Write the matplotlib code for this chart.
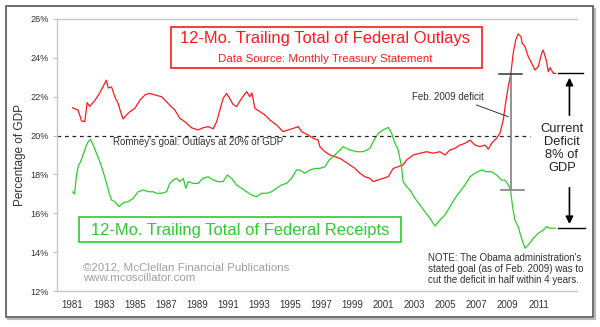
import matplotlib
matplotlib.use('Agg')
import matplotlib.pyplot as plt
from matplotlib.patches import Rectangle
from matplotlib.lines import Line2D

plt.rcParams['font.family'] = ['Liberation Sans', 'DejaVu Sans']

# 12-month trailing totals, % of GDP
outlay_years = [1981.00, 1981.36, 1981.58, 1981.79, 1981.94, 1982.10, 1982.43, 1982.76, 1982.95,
                1983.17, 1983.30, 1983.51, 1983.72, 1983.93, 1984.09, 1984.26, 1984.47, 1984.69,
                1985.01, 1985.34, 1985.66, 1985.93, 1986.30, 1986.73, 1987.05, 1987.33, 1987.58,
                1987.90, 1988.23, 1988.66, 1989.08, 1989.40, 1989.73, 1990.05, 1990.27, 1990.48,
                1990.69, 1990.91, 1991.12, 1991.33, 1991.55, 1991.88, 1992.20, 1992.41, 1992.54,
                1992.73, 1993.06, 1993.38, 1993.70, 1994.13, 1994.55, 1994.87, 1995.20, 1995.52,
                1995.74, 1996.16, 1996.48, 1996.80, 1996.91, 1997.24, 1997.56, 1997.88, 1998.20,
                1998.52, 1998.84, 1999.17, 1999.49, 1999.81, 2000.13, 2000.34, 2000.67, 2000.99,
                2001.31, 2001.63, 2001.95, 2002.27, 2002.49, 2002.92, 2003.35, 2003.78, 2004.20,
                2004.63, 2004.96, 2005.28, 2005.60, 2005.92, 2006.25, 2006.57, 2006.89, 2007.21,
                2007.53, 2007.75, 2007.96, 2008.28, 2008.50, 2008.71, 2008.86, 2009.03, 2009.20,
                2009.35, 2009.51, 2009.67, 2009.85, 2009.93, 2010.11, 2010.32, 2010.54, 2010.75,
                2010.96, 2011.18, 2011.28, 2011.50, 2011.61, 2011.72, 2011.93, 2012.08]
outlay_pct = [21.43, 21.30, 20.75, 20.72, 21.70, 21.50, 21.80, 22.20, 22.50,
              22.85, 22.45, 22.50, 22.00, 21.66, 21.23, 20.85, 21.06, 21.23,
              21.40, 21.83, 22.09, 22.17, 22.09, 22.00, 21.74, 21.50, 21.32,
              20.89, 20.71, 20.40, 20.29, 20.40, 20.46, 20.35, 20.71, 21.32,
              21.92, 22.17, 21.90, 21.60, 21.49, 21.92, 22.26, 22.00, 22.20,
              21.40, 21.23, 21.06, 20.80, 20.54, 20.20, 20.29, 20.37, 20.46,
              20.20, 20.03, 19.86, 19.77, 19.43, 19.17, 19.00, 18.91, 18.83,
              18.66, 18.49, 18.31, 18.06, 17.88, 17.80, 17.63, 17.72, 17.80,
              17.88, 18.31, 18.40, 18.49, 18.74, 19.00, 19.09, 19.17, 19.09,
              19.17, 19.00, 19.26, 19.34, 19.51, 19.60, 19.77, 19.51, 19.43,
              19.51, 19.30, 19.60, 19.86, 20.12, 20.80, 21.66, 22.50, 23.20,
              24.23, 24.92, 25.23, 25.09, 24.75, 24.58, 24.06, 23.72, 23.37,
              23.54, 24.23, 24.40, 23.80, 23.29, 23.50, 23.20, 23.20]

receipt_years = [1981.00, 1981.12, 1981.26, 1981.36, 1981.51, 1981.68, 1981.86, 1982.00, 1982.16,
                 1982.33, 1982.54, 1982.76, 1982.97, 1983.19, 1983.36, 1983.51, 1983.72, 1984.00,
                 1984.26, 1984.58, 1984.90, 1985.22, 1985.54, 1985.86, 1986.19, 1986.41, 1986.73,
                 1987.05, 1987.26, 1987.47, 1987.69, 1987.90, 1988.12, 1988.29, 1988.44, 1988.76,
                 1989.08, 1989.40, 1989.73, 1990.05, 1990.37, 1990.69, 1990.95, 1991.23, 1991.55,
                 1991.88, 1992.20, 1992.52, 1992.84, 1993.16, 1993.48, 1993.81, 1994.13, 1994.45,
                 1994.77, 1995.09, 1995.41, 1995.63, 1995.95, 1996.27, 1996.59, 1996.91, 1997.24,
                 1997.51, 1997.99, 1998.41, 1998.84, 1999.28, 1999.70, 2000.13, 2000.34, 2000.67,
                 2000.99, 2001.31, 2001.53, 2001.74, 2001.95, 2002.17, 2002.27, 2002.49, 2002.71,
                 2003.03, 2003.35, 2003.67, 2004.00, 2004.32, 2004.64, 2004.96, 2005.28, 2005.60,
                 2005.92, 2006.25, 2006.57, 2006.89, 2007.32, 2007.64, 2007.96, 2008.28, 2008.61,
                 2008.82, 2009.03, 2009.18, 2009.31, 2009.46, 2009.67, 2009.89, 2010.11, 2010.32,
                 2010.64, 2010.96, 2011.28, 2011.50, 2011.72, 2012.04]
receipt_pct = [17.10, 17.00, 17.97, 18.40, 18.65, 19.00, 19.43, 19.68, 19.80,
               19.51, 19.09, 18.65, 18.14, 17.54, 17.03, 16.68, 16.60, 16.34,
               16.54, 16.60, 16.77, 17.11, 17.20, 17.11, 17.11, 17.03, 17.03,
               17.11, 17.54, 17.71, 17.80, 17.63, 17.80, 17.29, 17.63, 17.54,
               17.54, 17.80, 17.88, 17.71, 17.63, 17.63, 17.97, 17.80, 17.46,
               17.29, 17.11, 16.94, 16.85, 17.03, 17.03, 17.11, 17.29, 17.46,
               17.54, 17.80, 18.23, 18.23, 18.06, 18.23, 18.31, 18.31, 18.40,
               18.74, 19.09, 19.43, 19.26, 19.17, 19.17, 19.34, 19.68, 20.12,
               20.29, 20.42, 20.12, 19.60, 19.26, 18.40, 17.63, 17.37, 17.20,
               16.77, 16.43, 16.08, 15.74, 15.35, 15.65, 15.91, 16.34, 16.77,
               17.11, 17.46, 17.88, 18.06, 18.23, 18.14, 18.14, 17.97, 17.71,
               17.71, 17.46, 17.20, 16.34, 15.65, 15.31, 14.71, 14.20, 14.37,
               14.71, 14.97, 15.14, 15.31, 15.23, 15.23]

year_labels = ['1981', '1983', '1985', '1987', '1989', '1991', '1993', '1995',
               '1997', '1999', '2001', '2003', '2005', '2007', '2009', '2011']
pct_ticks = [12, 14, 16, 18, 20, 22, 24, 26]

romney_goal = 20
feb09_year = 2009.20
feb09_outlays, feb09_receipts = 23.17, 17.20
current_outlays, current_receipts = 23.20, 15.23

red = '#ff1a1a'
green = '#2ecc2e'
dark = '#333333'

fig = plt.figure(figsize=(6, 3.27), dpi=100)
# outer frame with a light shadow on the right and bottom
fig.lines.append(Line2D([0.992, 0.992, 0.014], [0.972, 0.024, 0.024], transform=fig.transFigure,
                        color='#b8b8b8', lw=1.5))
fig.patches.append(Rectangle((0.010, 0.031), 0.978, 0.951, transform=fig.transFigure,
                             fill=False, edgecolor='#555555', lw=1.2))

ax = fig.add_axes([0.095, 0.110, 0.866, 0.832])
ax.set_xlim(1980.0, 2013.43)
ax.set_ylim(12, 26)

ax.plot(outlay_years, outlay_pct, color=red, lw=0.9)
ax.plot(receipt_years, receipt_pct, color=green, lw=0.9)

# Romney's 20% line
ax.plot([1980.0, 2010.43], [romney_goal, romney_goal], color='#222222', lw=0.9,
        dashes=(3, 3))
ax.text(0.1083, 0.549, "Romney's goal: Outlays at 20% of GDP", transform=ax.transAxes,
        fontsize=7, color=dark, va='center', ha='left')

# Feb. 2009 deficit marker
ax.plot([feb09_year, feb09_year], [feb09_receipts, feb09_outlays], color='#8a8a8a', lw=1.3)
ax.plot([2008.43, 2009.91], [feb09_outlays, feb09_outlays], color='#333333', lw=1.1)
ax.plot([2008.56, 2010.04], [feb09_receipts, feb09_receipts], color='#8a8a8a', lw=1.3)
ax.plot([2007.0, 2009.03], [21.57, 20.97], color=dark, lw=0.7)
ax.text(0.6825, 0.714, 'Feb. 2009 deficit', transform=ax.transAxes,
        fontsize=7, color=dark, va='center', ha='left')

# Current deficit marker
ax.plot([2012.23, 2013.84], [current_outlays, current_outlays], color='black', lw=1.0,
        clip_on=False)
ax.plot([2012.23, 2013.97], [current_receipts, current_receipts], color='black', lw=1.0,
        clip_on=False)
ax.annotate('', xy=(2012.97, current_outlays - 0.08), xytext=(2012.97, 20.9),
            arrowprops=dict(arrowstyle='-|>', color='black', lw=1.2, mutation_scale=11),
            annotation_clip=False)
ax.annotate('', xy=(2012.97, current_receipts + 0.07), xytext=(2012.97, 17.46),
            arrowprops=dict(arrowstyle='-|>', color='black', lw=1.2, mutation_scale=11),
            annotation_clip=False)
ax.text(2012.49, 19.33, 'Current\nDeficit\n8% of\nGDP', fontsize=9.3, color='#222222',
        ha='center', va='center', linespacing=1.13, clip_on=False)

# title boxes
ax.add_patch(Rectangle((0.2188, 0.8188), 0.5984, 0.1507, transform=ax.transAxes,
                       fill=False, edgecolor=red, lw=1.2))
ax.text(0.5154, 0.9265, '12-Mo. Trailing Total of Federal Outlays', transform=ax.transAxes,
        fontsize=11.9, color=red, ha='center', va='center')
ax.text(0.5162, 0.8518, 'Data Source: Monthly Treasury Statement', transform=ax.transAxes,
        fontsize=8.25, color=red, ha='center', va='center')

ax.add_patch(Rectangle((0.0429, 0.1813), 0.619, 0.0919, transform=ax.transAxes,
                       fill=False, edgecolor=green, lw=1.2))
ax.text(0.3521, 0.2243, '12-Mo. Trailing Total of Federal Receipts', transform=ax.transAxes,
        fontsize=11.9, color=green, ha='center', va='center')

ax.text(0.0494, 0.066, '\u00a92012, McClellan Financial Publications\nwww.mcoscillator.com',
        transform=ax.transAxes, fontsize=8.25, color='#a0a0a0', ha='left', va='center',
        linespacing=1.1)
ax.text(0.7144, 0.0809, "NOTE: The Obama administration's\nstated goal (as of Feb. 2009) was to\n"
        "cut the deficit in half within 4 years.", transform=ax.transAxes, fontsize=7,
        color=dark, ha='left', va='center', linespacing=1.16)

# axes styling
ax.set_xticks([int(y) for y in year_labels])
ax.set_xticklabels(year_labels)
ax.set_yticks(pct_ticks)
ax.set_yticklabels(['%d%%' % p for p in pct_ticks])
ax.tick_params(axis='x', length=0, pad=6.5, labelsize=7, labelcolor=dark)
ax.tick_params(axis='y', length=2.7, width=0.8, color='#c0c0c0', pad=3.4, labelsize=6.6,
               labelcolor=dark)
ax.set_ylabel('Percentage of GDP', fontsize=8.5, color=dark, labelpad=3)
for side in ['left', 'bottom', 'top']:
    ax.spines[side].set_color('#c8c8c8')
    ax.spines[side].set_linewidth(1.0)
ax.spines['right'].set_visible(False)

fig.savefig('out.png', dpi=100)
